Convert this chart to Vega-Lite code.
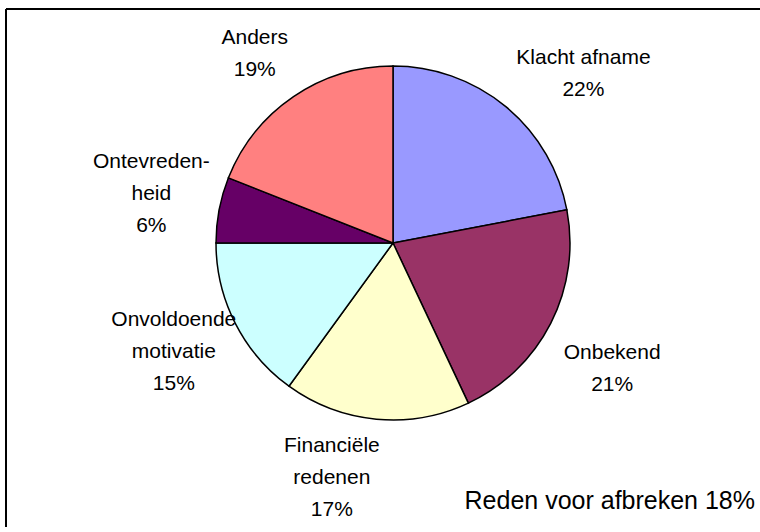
{
  "$schema": "https://vega.github.io/schema/vega-lite/v6.json",
  "width": 754,
  "height": 518,
  "autosize": {"type": "none"},
  "padding": {"left": 6, "top": 9, "right": 0, "bottom": 0},
  "background": "white",
  "view": {"stroke": null},
  "title": {
    "text": "Reden voor afbreken 18%",
    "orient": "bottom",
    "anchor": "end",
    "frame": "group",
    "offset": -39,
    "dx": -5,
    "font": "Liberation Sans",
    "fontSize": 25,
    "fontWeight": "normal",
    "color": "black"
  },
  "data": {
    "values": [
      {"rank": 1, "reason": "Klacht afname", "value": 22, "label": "Klacht afname\n22%"},
      {"rank": 2, "reason": "Onbekend", "value": 21, "label": "Onbekend\n21%"},
      {"rank": 3, "reason": "Financiële redenen", "value": 17, "label": "Financiële\nredenen\n17%"},
      {"rank": 4, "reason": "Onvoldoende motivatie", "value": 15, "label": "Onvoldoende\nmotivatie\n15%"},
      {"rank": 5, "reason": "Ontevredenheid", "value": 6, "label": "Ontevreden-\nheid\n6%"},
      {"rank": 6, "reason": "Anders", "value": 19, "label": "Anders\n19%"}
    ]
  },
  "resolve": {"scale": {"theta": "independent"}},
  "layer": [
    {
      "data": {"values": [{"edge": 1}]},
      "mark": {"type": "rule", "color": "black", "strokeWidth": 2},
      "encoding": {
        "y": {"field": "edge", "type": "quantitative", "scale": {"domain": [0, 1]}, "axis": null}
      }
    },
    {
      "data": {"values": [{"edge": 0}]},
      "mark": {"type": "rule", "color": "black", "strokeWidth": 2},
      "encoding": {
        "x": {"field": "edge", "type": "quantitative", "scale": {"domain": [0, 1]}, "axis": null}
      }
    },
    {
      "mark": {"type": "arc", "x": 387, "y": 234, "outerRadius": 177, "stroke": "black", "strokeWidth": 1.5},
      "encoding": {
        "theta": {"field": "value", "type": "quantitative", "stack": true},
        "order": {"field": "rank", "type": "quantitative"},
        "color": {
          "field": "reason",
          "type": "nominal",
          "scale": {
            "domain": ["Klacht afname", "Onbekend", "Financiële redenen", "Onvoldoende motivatie", "Ontevredenheid", "Anders"],
            "range": ["#9999FF", "#993366", "#FFFFCC", "#CCFFFF", "#660066", "#FF8080"]
          },
          "legend": null
        }
      }
    },
    {
      "mark": {"type": "text", "x": 387, "y": 234, "radius": 246, "dy": -2, "font": "Liberation Sans", "fontSize": 21, "lineBreak": "\n", "lineHeight": 32, "align": "center", "baseline": "middle", "color": "black"},
      "encoding": {
        "theta": {"field": "value", "type": "quantitative", "stack": true},
        "order": {"field": "rank", "type": "quantitative"},
        "text": {
          "condition": {"test": "datum.reason == 'Anders' || datum.reason == 'Onbekend'", "field": "label", "type": "nominal"},
          "value": ""
        }
      }
    },
    {
      "mark": {"type": "text", "x": 387, "y": 234, "radius": 250, "dy": -23, "font": "Liberation Sans", "fontSize": 21, "lineBreak": "\n", "lineHeight": 32, "align": "center", "baseline": "middle", "color": "black"},
      "encoding": {
        "theta": {"field": "value", "type": "quantitative", "stack": true, "scale": {"range": [0.175, 6.458]}},
        "order": {"field": "rank", "type": "quantitative"},
        "text": {
          "condition": {"test": "datum.reason == 'Klacht afname'", "field": "label", "type": "nominal"},
          "value": ""
        }
      }
    },
    {
      "mark": {"type": "text", "x": 387, "y": 234, "radius": 246, "dy": -35, "font": "Liberation Sans", "fontSize": 21, "lineBreak": "\n", "lineHeight": 32, "align": "center", "baseline": "middle", "color": "black"},
      "encoding": {
        "theta": {"field": "value", "type": "quantitative", "stack": true},
        "order": {"field": "rank", "type": "quantitative"},
        "text": {
          "condition": {"test": "datum.reason == 'Onvoldoende motivatie' || datum.reason == 'Ontevredenheid'", "field": "label", "type": "nominal"},
          "value": ""
        }
      }
    },
    {
      "mark": {"type": "text", "x": 387, "y": 234, "radius": 246, "dy": -35, "font": "Liberation Sans", "fontSize": 21, "lineBreak": "\n", "lineHeight": 32, "align": "center", "baseline": "middle", "color": "black"},
      "encoding": {
        "theta": {"field": "value", "type": "quantitative", "stack": true, "scale": {"range": [0.157, 6.440]}},
        "order": {"field": "rank", "type": "quantitative"},
        "text": {
          "condition": {"test": "datum.reason == 'Financiële redenen'", "field": "label", "type": "nominal"},
          "value": ""
        }
      }
    }
  ]
}
